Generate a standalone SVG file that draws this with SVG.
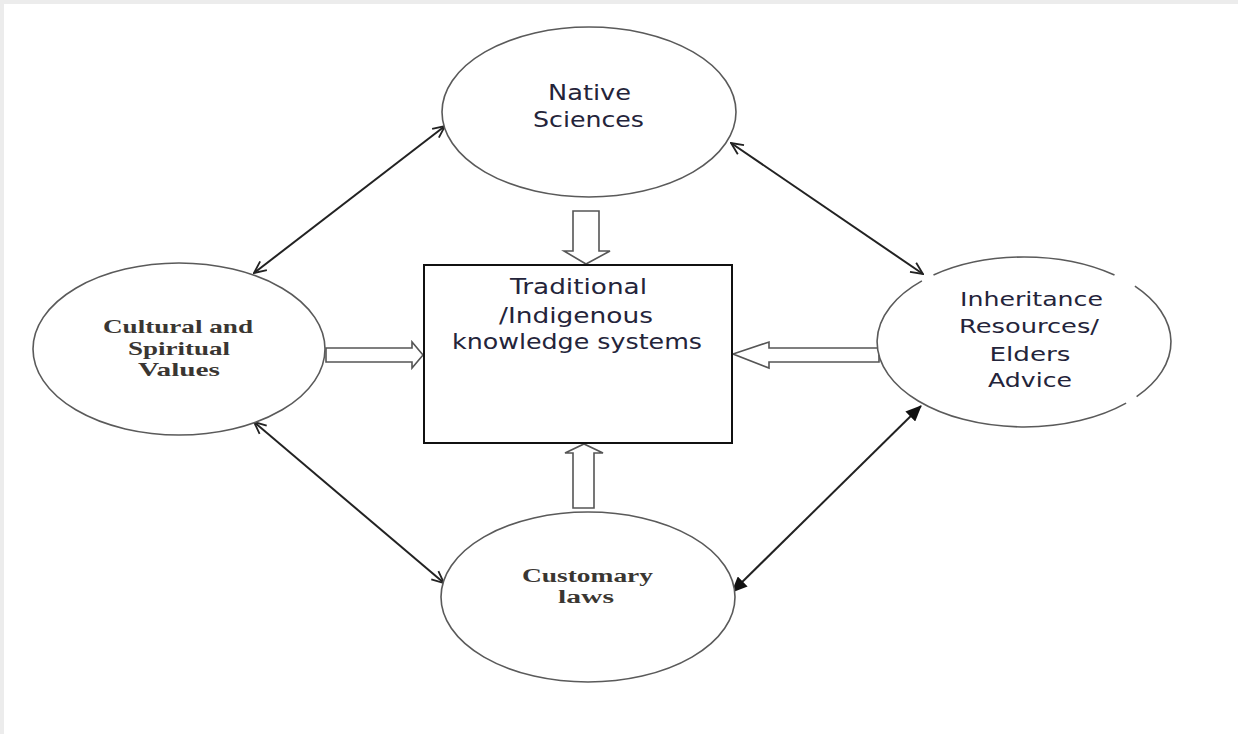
<svg xmlns="http://www.w3.org/2000/svg" width="1238" height="734" viewBox="0 0 1238 734">
  <style>
    .node { fill: #ffffff; stroke: #5a5a5a; stroke-width: 1.6; }
    .box { fill: #ffffff; stroke: #111111; stroke-width: 2; }
    .block { fill: #ffffff; stroke: #555555; stroke-width: 1.6; stroke-linejoin: miter; }
    .link { fill: none; stroke: #222222; stroke-width: 2; }
    .sans { font-family: "DejaVu Sans", "Liberation Sans", sans-serif; fill: #24243a; text-anchor: middle; }
    .serif { font-family: "Liberation Serif", "DejaVu Serif", serif; font-weight: bold; fill: #3a3632; text-anchor: middle; }
  </style>
  <defs>
    <marker id="open-head" viewBox="0 0 14 14" refX="13" refY="7" markerWidth="14" markerHeight="14" markerUnits="userSpaceOnUse" orient="auto-start-reverse">
      <path d="M1,1.5 L13,7 L1,12.5" fill="none" stroke="#222222" stroke-width="1.8"/>
    </marker>
    <marker id="solid-head" viewBox="0 0 16 14" refX="15" refY="7" markerWidth="16" markerHeight="14" markerUnits="userSpaceOnUse" orient="auto-start-reverse">
      <path d="M0,0 L16,7 L0,14 Z" fill="#111111"/>
    </marker>
  </defs>

  <!-- page frame -->
  <rect x="0" y="0" width="1238" height="734" fill="#ececec"/>
  <rect x="4" y="4" width="1234" height="730" fill="#ffffff"/>

  <!-- bidirectional links between the outer nodes -->
  <g id="connectors">
    <line class="link" x1="254" y1="273" x2="445" y2="126" marker-start="url(#open-head)" marker-end="url(#open-head)"/>
    <line class="link" x1="731" y1="143" x2="923" y2="274" marker-start="url(#open-head)" marker-end="url(#open-head)"/>
    <line class="link" x1="254" y1="422" x2="444" y2="583" marker-start="url(#open-head)" marker-end="url(#open-head)"/>
    <line class="link" x1="732" y1="592" x2="921" y2="406" marker-start="url(#solid-head)" marker-end="url(#solid-head)"/>
  </g>

  <!-- hollow block arrows feeding the central box -->
  <g id="block-arrows">
    <path class="block" d="M573,211 L599,211 L599,251 L610,251 L586,264 L564,251 L573,251 Z"/>
    <path class="block" d="M326,348 L412,348 L412,342 L423,355 L412,368 L412,362 L326,362 Z"/>
    <path class="block" d="M879,348 L769,348 L769,342 L733,354 L769,368 L769,362 L879,362 Z"/>
    <path class="block" d="M573,508 L594,508 L594,453 L603,453 L584,444 L565,453 L573,453 Z"/>
  </g>

  <g id="node-native-sciences">
    <ellipse class="node" cx="589" cy="112" rx="147" ry="85"/>
    <text class="sans" font-size="21"><tspan x="589.5" y="100" textLength="83" lengthAdjust="spacingAndGlyphs">Native</tspan><tspan x="588.5" y="127" textLength="111" lengthAdjust="spacingAndGlyphs">Sciences</tspan></text>
  </g>

  <g id="node-cultural-values">
    <ellipse class="node" cx="179" cy="349" rx="146" ry="86"/>
    <text class="serif" font-size="19"><tspan x="178" y="333" textLength="150" lengthAdjust="spacingAndGlyphs">Cultural and</tspan><tspan x="179" y="355" textLength="102" lengthAdjust="spacingAndGlyphs">Spiritual</tspan><tspan x="179" y="376" textLength="82" lengthAdjust="spacingAndGlyphs">Values</tspan></text>
  </g>

  <g id="node-inheritance">
    <path class="node" fill="none" d="M1126.1,403.1 A147,85 0 0 1 918.3,401.0 A147,85 0 0 1 921.9,280.9"/>
    <path class="node" fill="none" d="M933.5,275.0 A147,85 0 0 1 1114.5,275.0"/>
    <path class="node" fill="none" d="M1134.9,286.2 A147,85 0 0 1 1136.6,396.6"/>
    <text class="sans" font-size="20"><tspan x="1031.5" y="306" textLength="143" lengthAdjust="spacingAndGlyphs">Inheritance</tspan><tspan x="1029" y="333" textLength="140" lengthAdjust="spacingAndGlyphs">Resources/</tspan><tspan x="1030" y="361" textLength="81" lengthAdjust="spacingAndGlyphs">Elders</tspan><tspan x="1030" y="387" textLength="84" lengthAdjust="spacingAndGlyphs">Advice</tspan></text>
  </g>

  <g id="node-customary-laws">
    <ellipse class="node" cx="588" cy="597" rx="147" ry="85"/>
    <text class="serif" font-size="18.5"><tspan x="587.5" y="582" textLength="131" lengthAdjust="spacingAndGlyphs">Customary</tspan><tspan x="586" y="603" textLength="56" lengthAdjust="spacingAndGlyphs">laws</tspan></text>
  </g>

  <g id="node-knowledge-systems">
    <rect class="box" x="424" y="265" width="308" height="178"/>
    <text class="sans" font-size="20.5"><tspan x="578.5" y="294" textLength="137" lengthAdjust="spacingAndGlyphs">Traditional</tspan><tspan x="576" y="323" textLength="154" lengthAdjust="spacingAndGlyphs">/Indigenous</tspan><tspan x="577" y="349" textLength="250" lengthAdjust="spacingAndGlyphs">knowledge systems</tspan></text>
  </g>
</svg>
